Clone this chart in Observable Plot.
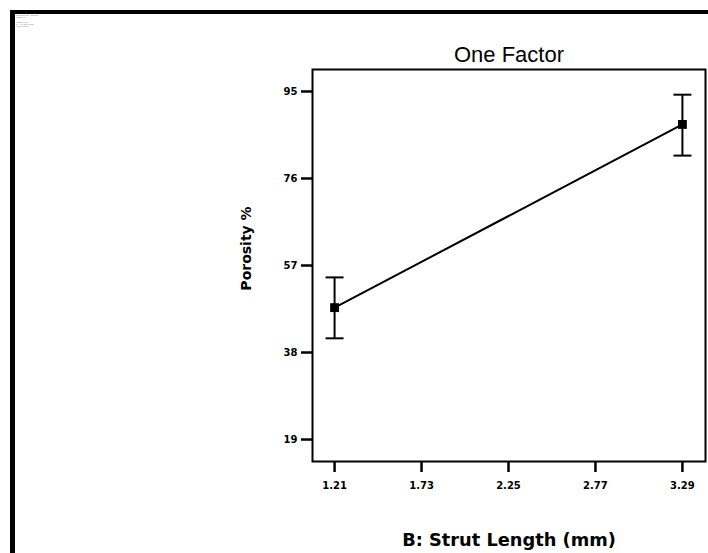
<!DOCTYPE html>
<html>
<head>
<meta charset="utf-8">
<script src="https://cdn.jsdelivr.net/npm/d3@7"></script>
<script src="https://cdn.jsdelivr.net/npm/@observablehq/plot@0.6"></script>
<style>
  html, body { margin: 0; padding: 0; background: #fff; }
  #wrap { position: relative; width: 708px; height: 553px; overflow: hidden; }
  #border { position: absolute; left: 10px; top: 10px; width: 720px; height: 560px;
            border-left: 5px solid #000; border-top: 4px solid #000; box-sizing: border-box; }
  #note { position: absolute; left: 16px; top: 14px; font: 2px "Liberation Sans", Arial, sans-serif;
          color: #888; line-height: 2.2px; white-space: pre; }
  #chart { position: absolute; left: 0; top: 0; }
</style>
</head>
<body>
<div id="wrap">
  <div id="chart"></div>
  <div id="border"></div>
  <div id="note">Design-Expert® Software
Porosity %

Design Points
X1 = B: Strut Length
Actual Factors</div>
</div>
<script>
const strutLength = [1.21, 3.29];
const porosityMean = [47.8, 87.8];
const porosityLow = [41.1, 81.0];
const porosityHigh = [54.4, 94.3];
const xTicks = [1.21, 1.73, 2.25, 2.77, 3.29];
const yTicks = [19, 38, 57, 76, 95];
const title = "One Factor";
const xLabel = "B: Strut Length (mm)";
const yLabel = "Porosity %";

const data = strutLength.map((x, i) => ({x, mean: porosityMean[i], lo: porosityLow[i], hi: porosityHigh[i]}));

const capSymbol = {
  draw(context, size) {
    const r = Math.sqrt(size / Math.PI);
    context.moveTo(-r, 0);
    context.lineTo(r, 0);
  }
};

const bold = "'DejaVu Sans', Verdana, sans-serif";

const chart = Plot.plot({
  width: 708,
  height: 553,
  marginLeft: 312,
  marginRight: 3,
  marginTop: 69,
  marginBottom: 92,
  style: {background: "#fff", color: "#000", fontFamily: bold, fontWeight: "bold", fontSize: "10px"},
  x: {domain: [1.078, 3.428], ticks: xTicks, tickFormat: d => d.toFixed(2), tickSize: 11, tickPadding: 9, label: null},
  y: {domain: [14.2, 99.8], ticks: yTicks, tickFormat: d => String(d), tickSize: 11, tickPadding: 4, label: null},
  marks: [
    Plot.frame({stroke: "#000", strokeWidth: 2}),
    Plot.line(data, {x: "x", y: "mean", stroke: "#000", strokeWidth: 2}),
    Plot.ruleX(data, {x: "x", y1: "lo", y2: "hi", stroke: "#000", strokeWidth: 2}),
    Plot.dot(data, {x: "x", y: "lo", symbol: capSymbol, r: 9, stroke: "#000", strokeWidth: 2}),
    Plot.dot(data, {x: "x", y: "hi", symbol: capSymbol, r: 9, stroke: "#000", strokeWidth: 2}),
    Plot.dot(data, {x: "x", y: "mean", symbol: "square", r: 5, fill: "#000", stroke: null}),
    Plot.text([title], {frameAnchor: "top", dy: -15, lineAnchor: "middle", fontSize: 22,
                        fontWeight: "normal", fontFamily: "'Liberation Sans', Arial, sans-serif", fill: "#000"}),
    Plot.text([xLabel], {frameAnchor: "bottom", dy: 79, lineAnchor: "middle", textAnchor: "middle", fontSize: 17.8,
                         fontWeight: "bold", fontFamily: bold, fill: "#000"}),
    Plot.text([yLabel], {frameAnchor: "left", dx: -66, dy: -17, rotate: -90, lineAnchor: "middle", textAnchor: "middle",
                         fontSize: 14, fontWeight: "bold", fontFamily: bold, fill: "#000"})
  ]
});

d3.select(chart).selectAll("g[aria-label='x-axis tick'], g[aria-label='y-axis tick']").attr("stroke-width", 2.5);
document.getElementById("chart").appendChild(chart);
</script>
</body>
</html>
